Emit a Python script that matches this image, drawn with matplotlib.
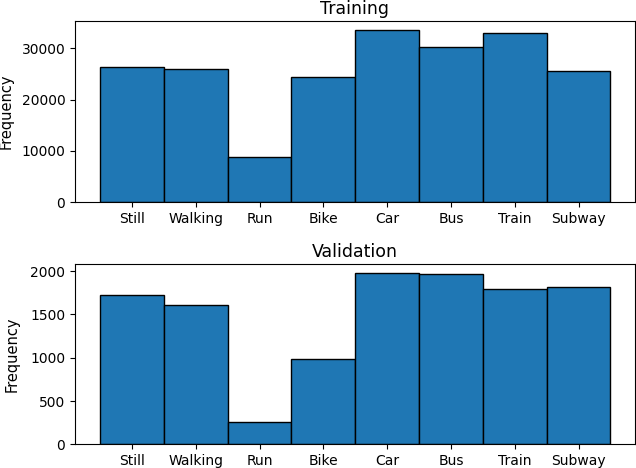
import matplotlib
matplotlib.use("Agg")
import matplotlib.pyplot as plt
import numpy as np

categories = ["Still", "Walking", "Run", "Bike", "Car", "Bus", "Train", "Subway"]
training = [26450, 26000, 8760, 24450, 33660, 30330, 33070, 25620]
validation = [1730, 1614, 261, 990, 1984, 1965, 1792, 1822]

W, H = 636, 468
fig = plt.figure(figsize=(W / 100, H / 100), dpi=100)

ax1 = fig.add_axes([75 / W, 1 - 202 / H, 560 / W, 181 / H])
ax2 = fig.add_axes([75 / W, 1 - 444.3 / H, 560 / W, 180.3 / H])

x = np.arange(len(categories))
for ax, vals, title in [(ax1, training, "Training"), (ax2, validation, "Validation")]:
    ax.bar(x, vals, width=1.0, color="#1f77b4", edgecolor="black", linewidth=1.0)
    ax.set_xticks(x)
    ax.set_xticklabels(categories, fontsize=10)
    ax.tick_params(axis="y", labelsize=10)
    ax.set_xlim(-0.893, 7.884)
    ax.set_ylim(0, max(vals) * 1.05)
    ax.set_ylabel("Frequency", fontsize=10.5)
    ax.set_title(title, fontsize=12.5, pad=5)

ax1.set_yticks([0, 10000, 20000, 30000])
ax2.set_yticks([0, 500, 1000, 1500, 2000])
ax1.yaxis.set_label_coords((14 - 75) / 560, 0.5)
ax2.yaxis.set_label_coords((20 - 75) / 560, 0.5)

fig.savefig("out.png", dpi=100)
